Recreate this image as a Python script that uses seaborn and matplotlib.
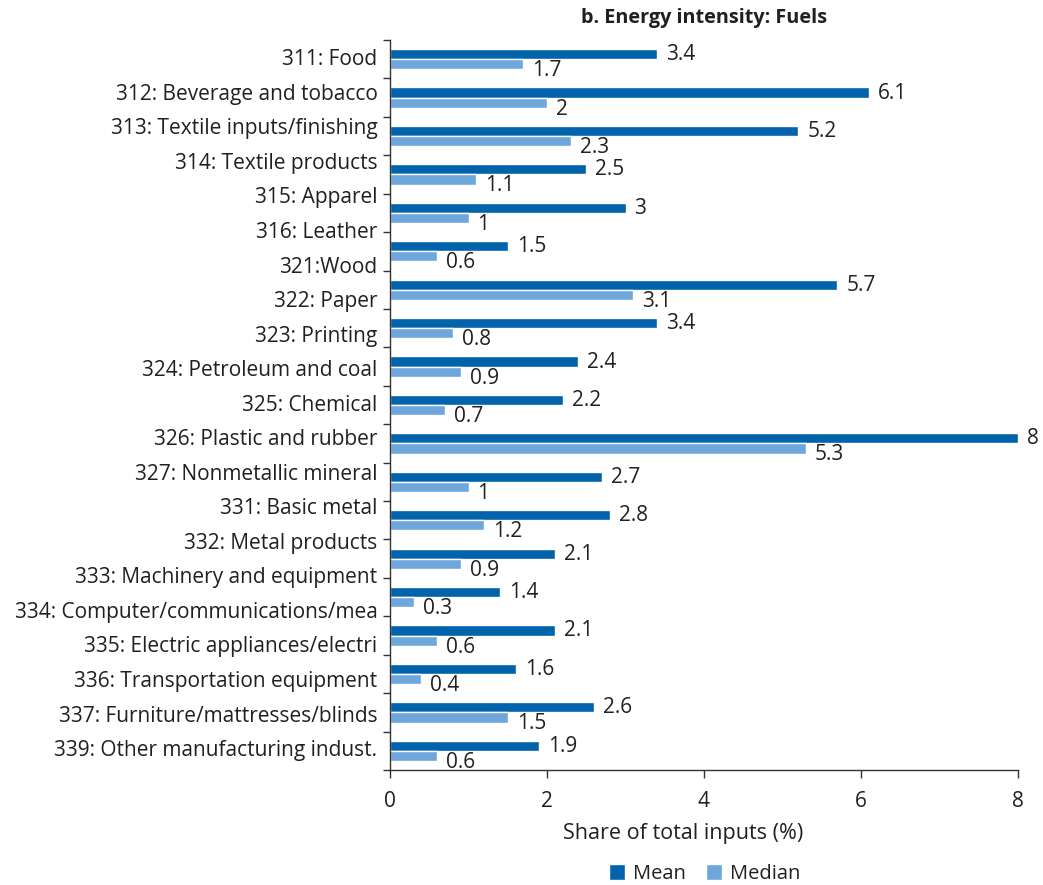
import numpy as np
import pandas as pd
import matplotlib
matplotlib.use("Agg")
import matplotlib.pyplot as plt
import seaborn as sns

# ---- data ----
axis_labels = [
    "311: Food", "312: Beverage and tobacco", "313: Textile inputs/finishing",
    "314: Textile products", "315: Apparel", "316: Leather", "321:Wood",
    "322: Paper", "323: Printing", "324: Petroleum and coal", "325: Chemical",
    "326: Plastic and rubber", "327: Nonmetallic mineral", "331: Basic metal",
    "332: Metal products", "333: Machinery and equipment",
    "334: Computer/communications/mea", "335: Electric appliances/electri",
    "336: Transportation equipment", "337: Furniture/mattresses/blinds",
    "339: Other manufacturing indust.",
]
mean_vals = [3.4, 6.1, 5.2, 2.5, 3, 1.5, 5.7, 3.4, 2.4, 2.2, 8, 2.7, 2.8, 2.1, 1.4, 2.1, 1.6, 2.6, 1.9]
median_vals = [1.7, 2, 2.3, 1.1, 1, 0.6, 3.1, 0.8, 0.9, 0.7, 5.3, 1, 1.2, 0.9, 0.3, 0.6, 0.4, 1.5, 0.6]
series_names = ["Mean", "Median"]
x_ticks = [0, 2, 4, 6, 8]
title = "b. Energy intensity: Fuels"
xlabel = "Share of total inputs (%)"

colors = ["#0063AB", "#6EA7DB"]

n = len(mean_vals)
groups = [f"g{i}" for i in range(n)]
df = pd.DataFrame({
    "group": groups * 2,
    "stat": [series_names[0]] * n + [series_names[1]] * n,
    "value": mean_vals + median_vals,
})

sns.set_theme(style="white")
plt.rcParams["font.family"] = ["Open Sans", "DejaVu Sans"]
TXT = "#231f20"
FS = 15

fig = plt.figure(figsize=(10.43, 8.85), dpi=100)
ax = fig.add_axes([390 / 1043, 1 - 770 / 885, (1018 - 390) / 1043, (770 - 40) / 885])

sns.barplot(data=df, y="group", x="value", hue="stat", order=groups,
            hue_order=series_names, palette=colors, orient="h",
            width=0.53, gap=0, saturation=1, ax=ax, legend=True)

ax.set_xlim(0, 8)
ax.set_ylim(n - 0.5, -0.5)

# value labels (mean labels roughly centred, median labels sit a bit lower)
y_offsets = [-0.4, -4.6]
for cont, dy in zip(ax.containers, y_offsets):
    for bar in cont:
        w = bar.get_width()
        yc = bar.get_y() + bar.get_height() / 2
        ax.annotate(f"{w:g}", (w, yc), xytext=(6.5, dy), textcoords="offset points",
                    ha="left", va="center", fontsize=FS, color=TXT,
                    annotation_clip=False)

# spines
for s in ["top", "right"]:
    ax.spines[s].set_visible(False)
for s in ["left", "bottom"]:
    ax.spines[s].set_color("#333333")
    ax.spines[s].set_linewidth(1.0)

# y ticks: major at group boundaries (no labels), minor with the 21 category labels
ax.set_yticks(np.arange(-0.5, n, 1.0))
ax.set_yticklabels([])
ax.tick_params(axis="y", which="major", direction="out", length=5, width=1,
               color="#333333", left=True)
label_pos = np.linspace(-0.05, n - 1 - 0.07, len(axis_labels))
ax.set_yticks(label_pos, minor=True)
ax.set_yticklabels(axis_labels, minor=True, fontsize=FS, color=TXT)
ax.tick_params(axis="y", which="minor", length=0, pad=9)

ax.set_xticks(x_ticks)
ax.set_xticklabels([str(t) for t in x_ticks], fontsize=FS, color=TXT)
ax.tick_params(axis="x", direction="out", length=6, width=1, color="#333333",
               bottom=True, pad=9)

ax.set_ylabel("")
ax.set_xlabel(xlabel, fontsize=15.5, color=TXT)
ax.xaxis.set_label_coords((683 - 390) / (1018 - 390), -(823 - 770) / (770 - 40))

fig.text(704 / 1043, 1 - 18 / 885, title, ha="center", va="center",
         fontsize=14.3, fontweight="bold", color=TXT)

handles, labels = ax.get_legend_handles_labels()
ax.legend(handles, labels, loc="center", ncol=2, frameon=False,
          bbox_to_anchor=((705 - 390) / (1018 - 390), -(874 - 770) / (770 - 40)),
          fontsize=14.5, handlelength=0.8, handleheight=0.8, handletextpad=0.4,
          columnspacing=1.0, labelcolor=TXT)

fig.savefig("out.png", dpi=100)
